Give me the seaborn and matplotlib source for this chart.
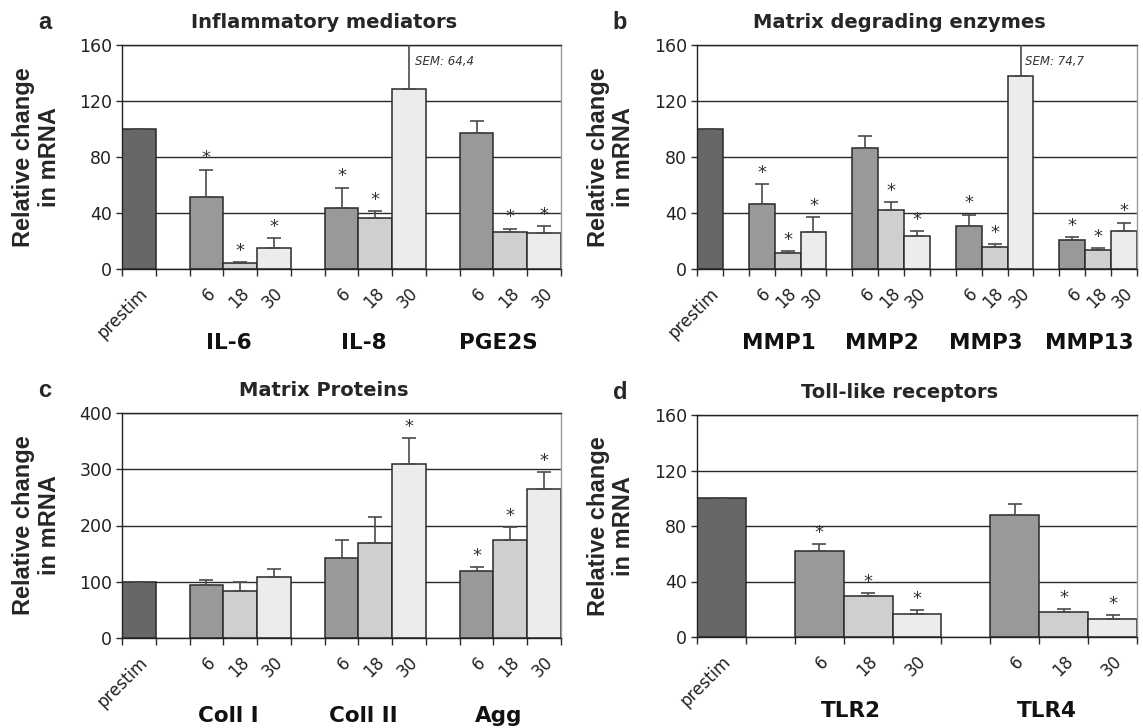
import numpy as np
import pandas as pd
import matplotlib
matplotlib.use('Agg')
import matplotlib.pyplot as plt
import matplotlib.transforms as mtransforms
import seaborn as sns

times = ['6', '18', '30']
prestim_value = 100

a_groups = ['IL-6', 'IL-8', 'PGE2S']
a_mean = [[51.4, 4.0, 15.1], [43.5, 36.4, 128.3], [97.5, 26.3, 26.0]]
a_sem = [[19.6, 1.0, 6.9], [14.7, 4.8, 64.4], [8.1, 2.6, 4.8]]
a_star = [[1, 1, 1], [1, 1, 0], [0, 1, 1]]

b_groups = ['MMP1', 'MMP2', 'MMP3', 'MMP13']
b_mean = [[46.5, 11.4, 26.1], [86.7, 42.4, 23.5], [31.0, 15.9, 137.7], [20.6, 13.5, 26.8]]
b_sem = [[13.9, 1.6, 10.9], [8.6, 5.2, 3.5], [7.9, 2.1, 74.7], [2.2, 1.2, 6.4]]
b_star = [[1, 1, 1], [0, 1, 1], [1, 1, 0], [1, 1, 1]]

c_groups = ['Coll I', 'Coll II', 'Agg']
c_mean = [[94.5, 84.0, 109.3], [141.8, 169.0, 309.6], [118.8, 174.9, 265.3]]
c_sem = [[9.5, 15.0, 14.2], [33.2, 46.0, 46.1], [7.7, 22.4, 30.1]]
c_star = [[0, 0, 0], [0, 0, 1], [1, 1, 1]]

d_groups = ['TLR2', 'TLR4']
d_mean = [[62.2, 29.8, 16.8], [87.9, 18.0, 12.7]]
d_sem = [[4.6, 1.7, 2.4], [7.7, 1.9, 3.4]]
d_star = [[1, 1, 1], [0, 1, 1]]

colors = {'prestim': '#676767', '6': '#999999', '18': '#cfcfcf', '30': '#ececec'}

sns.set_style('ticks')
plt.rcParams['font.family'] = ['DejaVu Sans']

fig = plt.figure(figsize=(11.43, 7.28), dpi=100)


def panel(rect, letter, title, groups, means, sems, stars, ymax, ystep, glabel_y):
    ax = fig.add_axes(rect)
    # one slot per bar, empty slot before each group
    rows = [{'slot': 'prestim', 'time': 'prestim', 'value': prestim_value, 'sem': 0.3, 'star': 0}]
    order = ['prestim']
    labels = ['prestim']
    for gi, g in enumerate(groups):
        order.append('gap%d' % gi)
        labels.append('')
        for ti, t in enumerate(times):
            key = g + ' ' + t
            order.append(key)
            labels.append(t)
            rows.append({'slot': key, 'time': t, 'value': means[gi][ti],
                         'sem': sems[gi][ti], 'star': stars[gi][ti]})
    df = pd.DataFrame(rows)
    n = len(order)

    sns.barplot(data=df, x='slot', y='value', hue='time', order=order,
                hue_order=['prestim'] + times, palette=colors, dodge=False,
                width=1.0, edgecolor='#2a2a2a', linewidth=1.1, errorbar=None,
                legend=False, ax=ax, zorder=2)

    xpos = np.array([order.index(s) for s in df['slot']])
    ax.errorbar(xpos, df['value'], yerr=[np.zeros(len(df)), df['sem']], fmt='none',
                ecolor='#4a4a4a', elinewidth=1.2, capsize=5, capthick=1.2, zorder=3)

    for x, v, s, st in zip(xpos, df['value'], df['sem'], df['star']):
        if st:
            ax.annotate('*', (x, v + s), xytext=(0, 8), textcoords='offset points',
                        ha='center', va='center', fontsize=13, color='#333333')
        if v + s > ymax:
            note = ('SEM: %.1f' % s).replace('.', ',')
            ax.text(x + 0.18, ymax * 0.925, note, ha='left', va='center',
                    fontsize=8.5, style='italic', color='#333333')

    ax.set_xlim(-0.5, n - 0.5)
    ax.set_ylim(0, ymax)
    ax.set_yticks(np.arange(0, ymax + 1, ystep))
    ax.yaxis.grid(True, color='#2a2a2a', linewidth=1.0)
    ax.set_axisbelow(True)

    ax.set_xticks(range(n))
    ax.set_xticklabels(labels)
    ax.set_xticks(np.arange(n + 1) - 0.5, minor=True)
    ax.tick_params(axis='x', which='major', length=0, pad=11, labelsize=12, labelcolor='#222222')
    ax.tick_params(axis='x', which='minor', length=5, width=1, color='#2a2a2a', direction='out')
    ax.tick_params(axis='y', length=4, width=1, color='#2a2a2a', labelsize=12.5,
                   labelcolor='#222222', pad=3)
    for lbl in ax.get_xticklabels():
        lbl.set_rotation(45)
        lbl.set_ha('right')
        lbl.set_va('top')
        lbl.set_rotation_mode('anchor')

    for side in ['left', 'bottom', 'top']:
        ax.spines[side].set_color('#222222')
        ax.spines[side].set_linewidth(1.0)
    ax.spines['right'].set_color('#9a9a9a')
    ax.spines['right'].set_linewidth(1.0)

    ax.set_xlabel('')
    ax.set_ylabel('Relative change\nin mRNA', fontsize=17, fontweight='bold',
                  family=['Liberation Sans', 'DejaVu Sans'], linespacing=1.15)
    ax.yaxis.set_label_coords(-0.14, 0.5)

    ax.text(0.46, 1.10, title, transform=ax.transAxes, ha='center', va='center',
            fontsize=14, fontweight='bold')
    ax.text(-0.175, 1.10, letter, transform=ax.transAxes, ha='center', va='center',
            fontsize=17, fontweight='bold', family=['Liberation Sans', 'DejaVu Sans'])

    trans = mtransforms.blended_transform_factory(ax.transData, ax.transAxes)
    for gi, g in enumerate(groups):
        gx = order.index(g + ' 18') - 0.35
        ax.text(gx, glabel_y, g, transform=trans, ha='center', va='baseline',
                fontsize=15.5, fontweight='bold', color='#111111')
    return ax


W, H = 1143.0, 728.0
panel([122 / W, (H - 269) / H, 439 / W, 224 / H], 'a', 'Inflammatory mediators',
      a_groups, a_mean, a_sem, a_star, 160, 40, -0.357)
panel([697 / W, (H - 269) / H, 440 / W, 224 / H], 'b', 'Matrix degrading enzymes',
      b_groups, b_mean, b_sem, b_star, 160, 40, -0.357)
panel([122 / W, (H - 638) / H, 439 / W, 225 / H], 'c', 'Matrix Proteins',
      c_groups, c_mean, c_sem, c_star, 400, 100, -0.372)
panel([697 / W, (H - 637) / H, 440 / W, 222 / H], 'd', 'Toll-like receptors',
      d_groups, d_mean, d_sem, d_star, 160, 40, -0.36)

fig.savefig('out.png', dpi=100)
